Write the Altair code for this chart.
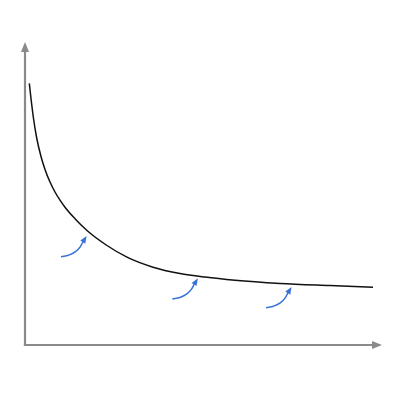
import altair as alt
import pandas as pd

# Curve (x right from origin, y up from origin)
curve_x = [4.3, 6, 8.3, 11.7, 16, 20, 25, 30, 35, 40, 50, 62, 82, 102, 128, 155, 180, 210, 255, 305, 348]
curve_y = [261.7, 246.5, 228, 207, 188.5, 175.5, 163, 153, 144.8, 137.8, 126.3, 114.5, 99.5, 87.8, 77.8,
           71.5, 67.9, 64.7, 61.5, 59.4, 57.8]

# Axes (origin, ends at arrow tips)
axis_x_end = 357
axis_y_end = 303

# Blue curved arrows: start points and common shape
arrow_start_x = [36, 147.3, 241]
arrow_start_y = [88.3, 46, 37.3]
arrow_dx = [0, 7.5, 14.2, 19.2, 22.5, 24.0]
arrow_dy = [0, 1.5, 4.8, 9.8, 15.8, 18.0]
arrow_tip_dx = 25.6
arrow_tip_dy = 20.7
arrow_angle = 32

curve = pd.DataFrame({"x": curve_x, "y": curve_y})

axes = pd.DataFrame({
    "x": [0, 0, 0, axis_x_end - 6],
    "y": [axis_y_end - 6, 0, 0, 0],
    "id": ["y", "y", "x", "x"],
    "o": [0, 1, 0, 1],
})
axis_heads = pd.DataFrame({
    "x": [0, axis_x_end],
    "y": [axis_y_end, 0],
    "angle": [0, 90],
})

rows = []
heads = []
for i, (sx, sy) in enumerate(zip(arrow_start_x, arrow_start_y)):
    for j, (dx, dy) in enumerate(zip(arrow_dx, arrow_dy)):
        rows.append({"x": sx + dx, "y": sy + dy, "id": i, "o": j})
    heads.append({"x": sx + arrow_tip_dx, "y": sy + arrow_tip_dy, "angle": arrow_angle})
arrows = pd.DataFrame(rows)
arrow_heads = pd.DataFrame(heads)

xs = alt.Scale(domain=[-17, 367], nice=False, zero=False)
ys = alt.Scale(domain=[-47, 337], nice=False, zero=False)
X = lambda: alt.X("x:Q", scale=xs, axis=None)
Y = lambda: alt.Y("y:Q", scale=ys, axis=None)

head_path = "M0,0L0.8,2L-0.8,2Z"
gray = "#8a8a8a"
blue = "#3a72d8"

axis_lines = alt.Chart(axes).mark_line(color=gray, strokeWidth=2.2, strokeCap="square").encode(
    x=X(), y=Y(), detail="id:N", order="o:Q"
)
axis_tips = alt.Chart(axis_heads).mark_point(
    shape=head_path, filled=True, color=gray, size=100, opacity=1
).encode(x=X(), y=Y(), angle=alt.Angle("angle:Q", scale=None))

curve_line = alt.Chart(curve).mark_line(
    color="#111111", strokeWidth=1.5, interpolate="monotone"
).encode(x=X(), y=Y(), order="x:Q")

arrow_lines = alt.Chart(arrows).mark_line(
    color=blue, strokeWidth=1.5, interpolate="monotone"
).encode(x=X(), y=Y(), detail="id:N", order="o:Q")
arrow_tips = alt.Chart(arrow_heads).mark_point(
    shape=head_path, filled=True, color=blue, size=52, opacity=1
).encode(x=X(), y=Y(), angle=alt.Angle("angle:Q", scale=None))

chart = alt.layer(axis_lines, axis_tips, curve_line, arrow_lines, arrow_tips).properties(
    width=384, height=384, padding=0, autosize=alt.AutoSizeParams(type="none"),
    background="white",
).configure_view(stroke=None)

chart.save("out.html", embed_options={"renderer": "svg", "actions": False})
